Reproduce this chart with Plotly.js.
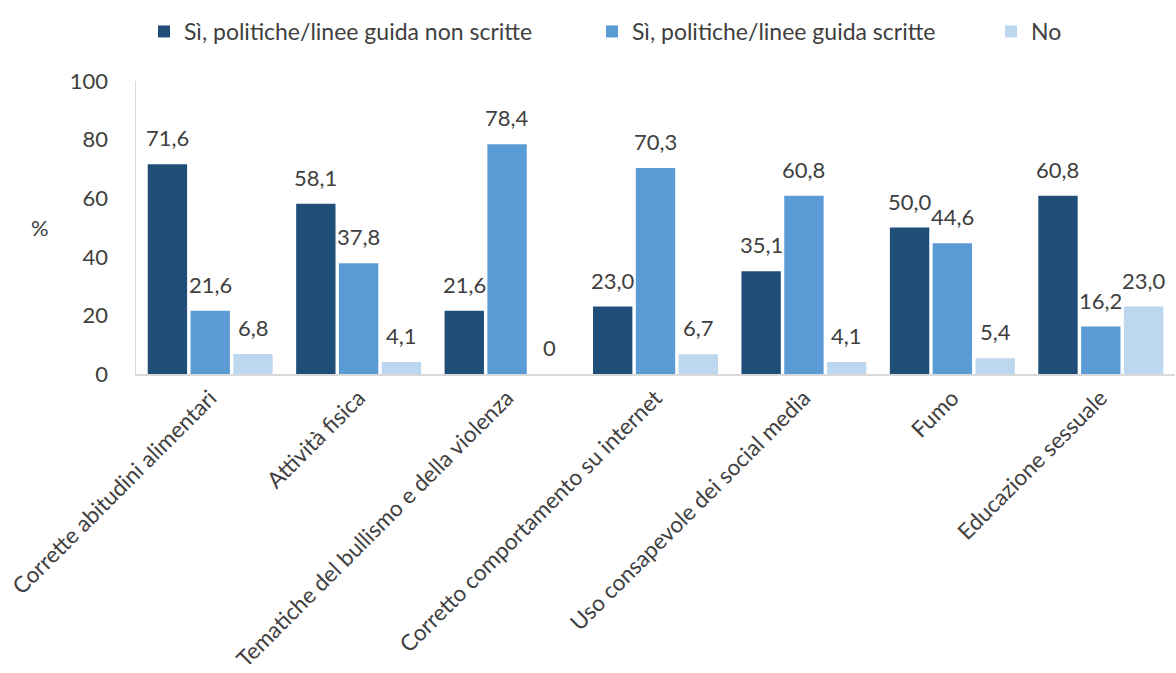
<!DOCTYPE html>
<html><head><meta charset="utf-8">
<script src="https://cdn.plot.ly/plotly-3.0.1.min.js"></script>
<style>html,body{margin:0;padding:0;background:#fff;}#chart{width:1176px;height:673px;}</style>
</head><body><div id="chart"></div>
<script>
var categories = ["Corrette abitudini alimentari","Attività fisica","Tematiche del bullismo e della violenza","Corretto comportamento su internet","Uso consapevole dei social media","Fumo","Educazione sessuale"];
var seriesNames = ["Sì, politiche/linee guida non scritte","Sì, politiche/linee guida scritte","No"];
var nonScritte = [71.6, 58.1, 21.6, 23.0, 35.1, 50.0, 60.8];
var scritte = [21.6, 37.8, 78.4, 70.3, 60.8, 44.6, 16.2];
var no = [6.8, 4.1, 0, 6.7, 4.1, 5.4, 23.0];
var yTicks = [0, 20, 40, 60, 80, 100];

var colors = ["#1F4E79", "#5B9BD5", "#BDD7EE"];
var FONT = "Lato, 'Open Sans', sans-serif";
var TXT = "#404040";
var bargap = 0.135, groupgap = 0.08;
var series = [nonScritte, scritte, no];
var legendIds = ["legend", "legend2", "legend3"];
var legendLeft = [144, 592, 991];

function fmt(v){ return v === 0 ? "0" : v.toFixed(1).replace(".", ","); }

var traces = series.map(function(vals, i){
  return {type:"bar", name: seriesNames[i], x: categories, y: vals, legend: legendIds[i],
    marker:{color: colors[i]}, hoverinfo:"y"};
});

var slot = (1 - bargap) / series.length;
var annotations = [];
series.forEach(function(vals, i){
  vals.forEach(function(v, j){
    annotations.push({x: j + (i - (series.length - 1) / 2) * slot, y: v, xref:"x", yref:"y",
      text: fmt(v), showarrow:false, yanchor:"bottom", yshift: 11,
      font:{family: FONT, size: 22, color: TXT}});
  });
});
annotations.push({x: (40 - 136) / (1176 - 137), xref:"paper", xanchor:"center", y: 50, yref:"y", text:"%",
  showarrow:false, font:{family: FONT, size: 22, color: TXT}});

var layout = {
  width:1176, height:673,
  margin:{l:136, r:1, t:81, b:299},
  paper_bgcolor:"#fff", plot_bgcolor:"#fff",
  barmode:"group", bargap: bargap, bargroupgap: groupgap,
  font:{family: FONT, size: 22, color: TXT},
  showlegend:true,
  xaxis:{type:"category", tickangle:-45, showline:true, linecolor:"#d9d9d9", linewidth:2,
    ticks:"", showgrid:false, zeroline:false, tickfont:{family: FONT, size: 22.5, color: TXT}},
  yaxis:{range:[0,100], tickvals: yTicks, ticktext: yTicks.map(String), showgrid:false,
    zeroline:false, showline:true, linecolor:"#d9d9d9", linewidth:1.5, ticks:"",
    ticklabelstandoff: 22, tickfont:{family: FONT, size: 22, color: TXT}},
  annotations: annotations
};
legendIds.forEach(function(id, i){
  layout[id] = {orientation:"h", xref:"container", yref:"container", x: legendLeft[i]/1176, xanchor:"left",
    y: 1 - 10/673, yanchor:"top", bgcolor:"rgba(0,0,0,0)",
    font:{family: FONT, size: 23, color: TXT}};
});
Plotly.newPlot("chart", traces, layout, {displayModeBar:false, staticPlot:true});
</script></body></html>
